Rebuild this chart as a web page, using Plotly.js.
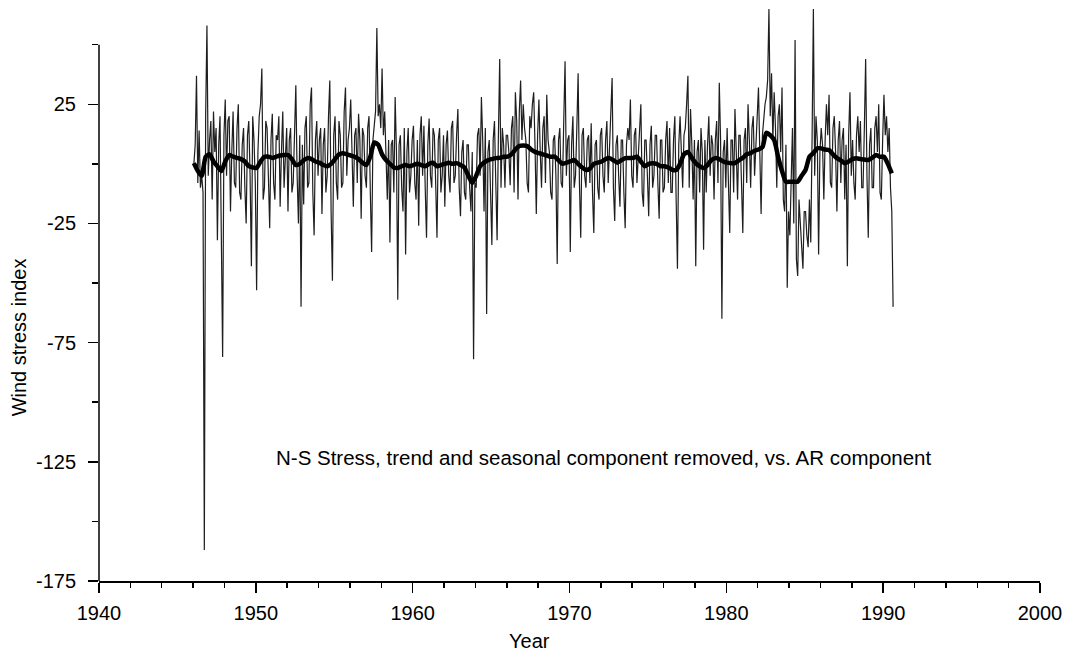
<!DOCTYPE html>
<html>
<head>
<meta charset="utf-8">
<script src="https://cdn.plot.ly/plotly-3.0.1.min.js"></script>
<style>html,body{margin:0;padding:0;background:#fff;}#chart{width:1065px;height:654px;}</style>
</head>
<body>
<div id="chart"></div>
<script>
// Raw N-S stress index (trend and seasonal removed), monthly from 1946.05
const rawStart = 1946.05;
const rawStep = 1 / 12;
const rawValues = [
  0, 8, 37, -8, 14, -10, -5, -12, -162, 20, 58, -5,        // 1946
  10, 18, -15, 22, 5, 15, -32, 8, 20, -20, -81, 12,        // 1947
  27, -5, 18, 20, -20, 5, 22, -8, -10, 15, 25, -12,        // 1948
  -15, 8, 15, -10, -25, 12, 18, -5, -43, 20, 10, -8,       // 1949
  -53, 5, 20, 25, 40, -15, -10, 18, 15, -5, -27, 10,       // 1950
  21, -8, -15, 12, 10, 20, -18, 5, 22, -10, 5, 15,         // 1951
  -20, 10, 15, -12, -8, 18, 33, -5, -25, 12, -60, 8,       // 1952
  -17, 15, 20, -10, -8, 25, 32, -12, -30, 10, 18, -5,      // 1953
  10, 15, -21, 8, 15, -12, -5, 20, 35, -20, -49, 12,       // 1954
  20, -8, -15, 18, 12, -10, -8, 22, 32, -5, 10, 15,        // 1955
  27, 5, -18, 12, 15, -8, 21, 10, -23, 15, 12, -5,         // 1956
  -10, 15, 20, -12, -37, 10, 18, 22, 57, 20, 25, 15,       // 1957
  40, 12, 22, 5, -15, 10, -33, 8, 10, -12, 28, 5,          // 1958
  -57, 8, 12, -10, -20, 15, -38, 5, 15, -12, -5, 10,       // 1959
  16, -8, -15, 10, -26, 12, 20, -5, 16, -10, -31, 8,       // 1960
  19, -5, -10, 15, 12, -8, -31, 10, 15, -12, -5, 12,       // 1961
  -18, 8, 14, -5, -12, 15, 18, -8, -5, 12, 23, -10,        // 1962
  -22, 5, 10, -12, -15, 8, 8, -10, -20, 5, -82, -8,        // 1963
  -10, 12, 15, -5, 28, 10, -20, 15, -63, 5, 10, -12,       // 1964
  -34, 10, 18, -8, -32, 12, 44, -10, 15, 8, -10, 12,       // 1965
  12, 5, -9, 15, 20, -12, 30, 18, -15, 22, 35, 10,         // 1966
  25, 15, 10, -8, -12, 20, 15, 25, 30, 8, -21, 12,         // 1967
  27, 5, -10, 15, 20, -8, 29, 10, 5, -12, -15, 10,         // 1968
  12, -5, -42, 10, 15, -8, -10, 18, 43, -5, 10, 12,        // 1969
  -37, 8, 20, -10, -5, 15, 38, -8, -31, 12, 15, -5,        // 1970
  -10, 10, 12, -8, 17, -12, -29, 8, 10, -10, -15, 12,      // 1971
  15, -5, -12, 10, 18, -8, 10, 20, 36, -10, -24, 8,        // 1972
  12, -5, -18, 10, 10, -12, -27, 8, 15, 10, 27, -5,        // 1973
  -10, 12, 15, -8, 5, 18, 25, -12, -18, 10, 10, -5,        // 1974
  -22, 8, 16, -10, -5, 12, 12, -8, -23, 10, 10, -12,       // 1975
  -10, 10, 18, -8, 15, -12, -12, 10, 20, -15, -44, 8,      // 1976
  20, 5, -10, 12, 15, 25, 37, -10, 23, 8, -15, 10,         // 1977
  -43, 5, 10, -12, 15, 5, -36, 10, -12, 8, 20, -5,         // 1978
  12, 8, -15, 10, 18, -8, 34, 10, -65, 5, 10, -10,         // 1979
  15, -8, -29, 10, 10, -12, 23, 5, -15, 12, 12, -8,        // 1980
  -29, 10, 15, -8, 25, 10, -10, 15, 20, -5, 10, 18,        // 1981
  32, 5, -21, 12, 20, 25, 28, 35, 65, 20, 38, 10,          // 1982
  30, 15, -10, 20, 25, 5, 32, -15, -20, 8, -52, -20,       // 1983
  -30, -10, 15, -25, 52, -40, -47, -15, -25, -35, -44, -20, // 1984
  -20, -30, -35, -15, -33, 10, 65, -5, 20, 10, -38, 5,     // 1985
  15, 8, -15, 10, 25, 12, 29, -8, -10, 15, 20, 5,          // 1986
  -20, 10, 18, -8, 10, 15, -15, 8, -43, 12, 30, -5,        // 1987
  10, -8, -15, 12, 20, 5, 18, -10, -10, 15, 44, -5,        // 1988
  -31, 8, 15, -10, -10, 15, 20, 5, 25, -12, -15, 10,       // 1989
  29, 12, 20, 5, 15, -10, -20, -60                         // 1990
];

// AR component, quarterly from 1946.05
const arStart = 1946.05;
const arStep = 0.25;
const arValues = [
  0.3, -3, -5, 3,        // 1946
  4, 1, -1, -3,          // 1947
  1, 3.7, 3, 2.5,        // 1948
  2, 1, -1, -1.5,        // 1949
  -1.7, 1, 3, 3,         // 1950
  2.5, 3, 3.5, 3.7,      // 1951
  3.7, 2, -0.5, 0,       // 1952
  1.5, 2.4, 2, 1,        // 1953
  0.5, -0.5, -1, 0,      // 1954
  2, 4, 4.5, 4,          // 1955
  3.5, 3, 2, 0.5,        // 1956
  -0.5, 3, 9, 8,         // 1957
  4, 1.6, 0, -1.5,       // 1958
  -1.7, -1, -0.5, -1,    // 1959
  -0.5, 0, -0.5, -1,     // 1960
  0, 0.5, -1, -0.5,      // 1961
  0, 0.5, 0, 0.3,        // 1962
  -0.5, -1.5, -5, -8,    // 1963
  -5, -1, 0.5, 1.5,      // 1964
  2, 2.4, 2.5, 3,        // 1965
  3, 4, 6, 7.5,          // 1966
  7.7, 7.5, 6, 5,        // 1967
  4.5, 4, 3.5, 3,        // 1968
  3, 1.5, 0, 0.5,        // 1969
  1, 1.6, 0, -1.5,       // 1970
  -2.6, -2, 0, 0.5,      // 1971
  1, 2, 2.4, 1.5,        // 1972
  0.5, 1.5, 2.4, 2.5,    // 1973
  2.5, 3, 1, -1,         // 1974
  0, 0.3, 0, -1,         // 1975
  -1, -1.5, -2.5, -2.6,  // 1976
  0, 4, 5, 2.5,          // 1977
  0.3, -1, -1.7, -0.5,   // 1978
  1.6, 2.4, 2, 1,        // 1979
  0.5, 0.3, 0.3, 1.5,    // 1980
  2.5, 4, 4.5, 5.5,      // 1981
  6, 7, 13, 12,          // 1982
  10, 3, -3, -7.5,       // 1983
  -7.5, -7.5, -7.5, -5,  // 1984
  -2.6, 3, 4.5, 6.5,     // 1985
  6.5, 6, 5.8, 4,        // 1986
  2.4, 1.5, 0.3, 1,      // 1987
  2, 2.4, 2, 1.8,        // 1988
  1.6, 2.5, 3.7, 3,      // 1989
  3, 0, -4               // 1990
];

const xTickVals = [1940, 1950, 1960, 1970, 1980, 1990, 2000];
const xMinorVals = [1942, 1944, 1946, 1948, 1952, 1954, 1956, 1958, 1962, 1964, 1966, 1968, 1972, 1974, 1976, 1978, 1982, 1984, 1986, 1988, 1992, 1994, 1996, 1998];
const yTickVals = [25, -25, -75, -125, -175];
const yMinorVals = [50, 0, -50, -100, -150];

const rawX = rawValues.map((_, i) => rawStart + i * rawStep);
const arX = arValues.map((_, i) => arStart + i * arStep);

const FONT = 'Liberation Sans, Arial, Helvetica, sans-serif';

const traces = [
  {
    x: rawX, y: rawValues, type: 'scatter', mode: 'lines',
    line: {color: '#1e1e1e', width: 1.2},
    hoverinfo: 'skip', showlegend: false
  },
  {
    x: arX, y: arValues, type: 'scatter', mode: 'lines',
    line: {color: '#000000', width: 4.5, shape: 'spline', smoothing: 0.6},
    hoverinfo: 'skip', showlegend: false
  }
];

const layout = {
  width: 1065, height: 654,
  margin: {l: 99, r: 25, t: 2, b: 73, pad: 0},
  paper_bgcolor: '#ffffff', plot_bgcolor: '#ffffff',
  font: {family: FONT, size: 20, color: '#000'},
  showlegend: false,
  xaxis: {
    range: [1940, 2000],
    tickmode: 'array', tickvals: xTickVals, ticktext: xTickVals.map(String),
    ticks: 'outside', ticklen: 10, tickwidth: 1.5, tickcolor: '#000',
    showline: true, linewidth: 1.5, linecolor: '#000',
    showgrid: false, zeroline: false,
    ticklabelstandoff: 3,
    tickfont: {family: FONT, size: 20, color: '#000'},
    minor: {tickmode: 'array', tickvals: xMinorVals, ticks: 'outside', ticklen: 5, tickwidth: 1.5, tickcolor: '#000', showgrid: false}
  },
  yaxis: {
    range: [-175, 67.9],
    tickmode: 'array', tickvals: yTickVals, ticktext: yTickVals.map(String),
    ticks: 'outside', ticklen: 10, tickwidth: 1.5, tickcolor: '#000',
    showline: false,
    showgrid: false, zeroline: false,
    ticklabelstandoff: 8,
    tickfont: {family: FONT, size: 20, color: '#000'},
    minor: {tickmode: 'array', tickvals: yMinorVals, ticks: 'outside', ticklen: 6, tickwidth: 1.5, tickcolor: '#000', showgrid: false}
  },
  shapes: [
    {type: 'line', xref: 'paper', yref: 'y', x0: 0, x1: 0, y0: -175, y1: 50,
     line: {color: '#000', width: 1.5}, layer: 'above'}
  ],
  annotations: [
    {text: 'N-S Stress, trend and seasonal component removed, vs. AR component',
     xref: 'paper', yref: 'paper', x: 0.537, y: 0.214, xanchor: 'center', yanchor: 'middle',
     showarrow: false, font: {family: FONT, size: 20.5, color: '#000'}},
    {text: 'Wind stress index', textangle: -90,
     xref: 'paper', yref: 'paper', x: -0.0855, y: 0.42, xanchor: 'center', yanchor: 'middle',
     showarrow: false, font: {family: FONT, size: 20, color: '#000'}},
    {text: 'Year',
     xref: 'paper', yref: 'paper', x: 0.457, y: -0.1036, xanchor: 'center', yanchor: 'middle',
     showarrow: false, font: {family: FONT, size: 20, color: '#000'}}
  ]
};

Plotly.newPlot('chart', traces, layout, {staticPlot: true, displayModeBar: false});
</script>
</body>
</html>
